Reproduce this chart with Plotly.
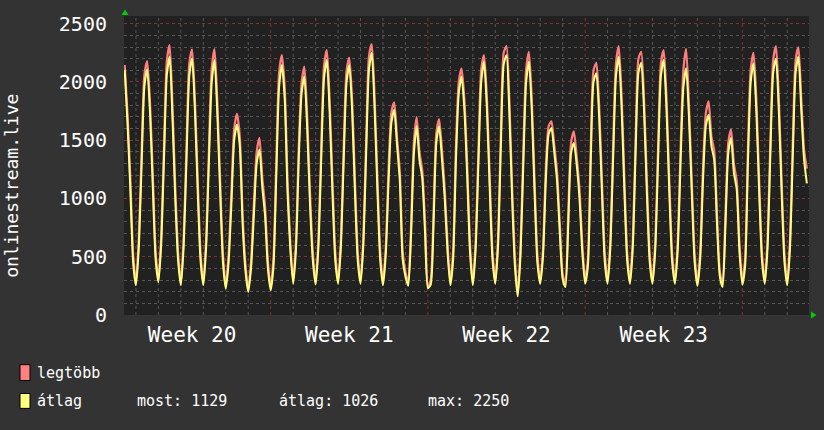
import plotly.graph_objects as go

# ---------------- data ----------------
week_labels = ["Week 20", "Week 21", "Week 22", "Week 23"]
week_label_pos = [3.5, 10.5, 17.5, 24.5]      # days since start of week 20
week_starts = [7, 14, 21, 28]
day_lines = [d for d in range(1, 31) if d not in (7, 14, 21, 28)]
y_tickvals = [0, 500, 1000, 1500, 2000, 2500]

first_sample_day = 0.5      # first sample: day 0, 12:00
sample_step_hours = 3

# "átlag" (average), 3-hourly samples
atlag_w20 = [2103, 1640, 1080, 450,
             255, 570, 1275, 1960, 2110, 1740, 1100, 480,
             284, 610, 1345, 2060, 2216, 1700, 1000, 470,
             255, 590, 1330, 2050, 2202, 1760, 1060, 470,
             255, 580, 1320, 2000, 2188, 1720, 1050, 450,
             227, 450, 950, 1500, 1634, 1450, 780, 380,
             198, 400, 850, 1300, 1420, 1100, 850, 400]
atlag_w21 = [213, 420, 1200, 1960, 2145, 1850, 1050, 560,
             269, 560, 1335, 1900, 2046, 1600, 950, 470,
             261, 580, 1330, 2030, 2188, 1740, 1050, 470,
             269, 580, 1320, 1990, 2145, 1760, 1060, 470,
             269, 600, 1380, 2100, 2250, 1780, 1080, 480,
             255, 520, 1150, 1650, 1761, 1460, 1150, 480,
             330, 250, 680, 1380, 1620, 1330, 1170, 700]
atlag_w22 = [230, 260, 770, 1480, 1620, 1340, 1000, 540,
             255, 480, 1335, 1900, 2046, 1760, 1190, 540,
             255, 560, 1300, 2000, 2174, 1780, 1100, 480,
             269, 600, 1450, 2150, 2230, 1750, 1000, 420,
             160, 520, 1300, 2000, 2174, 1760, 1050, 450,
             269, 500, 1150, 1550, 1605, 1400, 1150, 700,
             310, 240, 770, 1390, 1477, 1290, 1000, 540]
atlag_w23 = [270, 420, 1300, 2000, 2074, 1700, 1050, 460,
             269, 580, 1350, 2050, 2216, 1780, 1060, 460,
             269, 580, 1400, 2080, 2165, 1750, 1050, 460,
             269, 560, 1330, 2050, 2188, 1760, 1050, 460,
             269, 560, 1300, 1950, 2117, 1700, 1050, 460,
             250, 480, 1150, 1620, 1719, 1450, 1330, 770,
             330, 240, 770, 1390, 1520, 1220, 1080, 540]
atlag_w24 = [260, 420, 1300, 2000, 2160, 1750, 1060, 470,
             269, 580, 1380, 2080, 2202, 1760, 1060, 460,
             255, 580, 1380, 2080, 2216, 1760, 1335, 1129]

# "legtöbb" (maximum), same samples
legtobb_w20 = [2145, 1720, 1170, 520,
               280, 640, 1380, 2060, 2180, 1830, 1200, 550,
               300, 680, 1450, 2180, 2316, 1800, 1100, 540,
               275, 660, 1430, 2160, 2279, 1850, 1160, 540,
               275, 650, 1420, 2120, 2282, 1820, 1150, 520,
               245, 510, 1050, 1600, 1727, 1530, 860, 440,
               215, 460, 950, 1400, 1520, 1180, 930, 460]
legtobb_w21 = [235, 490, 1320, 2080, 2230, 1950, 1150, 620,
               290, 630, 1440, 1990, 2131, 1700, 1050, 540,
               280, 650, 1440, 2140, 2273, 1840, 1150, 540,
               290, 650, 1430, 2090, 2210, 1850, 1160, 540,
               290, 670, 1490, 2220, 2324, 1880, 1180, 550,
               275, 590, 1260, 1740, 1824, 1520, 1230, 550,
               370, 280, 770, 1480, 1699, 1400, 1240, 780]
legtobb_w22 = [250, 300, 870, 1560, 1682, 1420, 1080, 610,
               275, 560, 1450, 2000, 2117, 1850, 1290, 610,
               275, 630, 1410, 2110, 2230, 1870, 1200, 550,
               290, 670, 1560, 2250, 2307, 1850, 1100, 490,
               180, 590, 1410, 2110, 2259, 1850, 1150, 520,
               290, 560, 1250, 1620, 1662, 1460, 1230, 780,
               350, 270, 870, 1480, 1577, 1360, 1080, 610]
legtobb_w23 = [300, 480, 1420, 2100, 2165, 1800, 1150, 530,
               290, 650, 1460, 2160, 2307, 1880, 1160, 530,
               290, 650, 1510, 2200, 2259, 1850, 1150, 530,
               290, 630, 1440, 2160, 2273, 1860, 1150, 530,
               290, 630, 1410, 2100, 2285, 1800, 1150, 530,
               270, 540, 1260, 1730, 1833, 1530, 1410, 850,
               370, 270, 870, 1480, 1591, 1300, 1150, 610]
legtobb_w24 = [290, 480, 1420, 2110, 2250, 1850, 1160, 540,
               290, 650, 1490, 2190, 2307, 1860, 1160, 530,
               275, 650, 1490, 2190, 2296, 1860, 1420, 1256]

legend_name_max = "legtöbb"
legend_name_avg = "átlag"
stat_texts = ["most: 1129", "átlag: 1026", "max: 2250"]
y_title = "onlinestream.live"

atlag = atlag_w20 + atlag_w21 + atlag_w22 + atlag_w23 + atlag_w24
legtobb = legtobb_w20 + legtobb_w21 + legtobb_w22 + legtobb_w23 + legtobb_w24
t = [first_sample_day + i * sample_step_hours / 24.0 for i in range(len(atlag))]

# ---------------- layout helpers (pixel -> paper) ----------------
W, H = 824, 430
L, R, T, B = 124, 809, 14, 315


def px(xp):
    return (xp - L) / (R - L)


def py(yp):
    return (B - yp) / (B - T)


MONO = "DejaVu Sans Mono"
BG = "#333333"
PLOT_BG = "#212121"
RED = "#ff7f7f"
YEL = "#ffff80"
GRID = "#575757"
MAJOR = "#7a3636"

fig = go.Figure()
fig.add_trace(go.Scatter(x=t, y=legtobb, mode="lines", name=legend_name_max,
                         line=dict(color=RED, width=2.2, shape="spline", smoothing=0.6),
                         hoverinfo="skip"))
fig.add_trace(go.Scatter(x=t, y=atlag, mode="lines", name=legend_name_avg,
                         line=dict(color=YEL, width=2, shape="spline", smoothing=0.6)))

fig.update_layout(
    width=W, height=H,
    margin=dict(l=L, r=W - R, t=T, b=H - B),
    paper_bgcolor=BG, plot_bgcolor=PLOT_BG,
    showlegend=False,
    font=dict(family=MONO, color="#ffffff", size=20),
)

fig.update_xaxes(
    range=[0.468, 30.97],
    tickmode="array", tickvals=week_label_pos, ticktext=week_labels,
    showgrid=False, zeroline=False, ticks="", showline=False,
    tickfont=dict(family=MONO, size=21, color="#ffffff"),
    ticklabelstandoff=5,
)
fig.update_yaxes(
    range=[0, 2566],
    tickmode="array", tickvals=y_tickvals,
    showgrid=True, gridcolor=MAJOR, griddash="dot", gridwidth=1,
    zeroline=False, ticks="", showline=False,
    tickfont=dict(family=MONO, size=20, color="#ffffff"),
    ticklabelstandoff=16,
    minor=dict(tick0=0, dtick=100, showgrid=True, gridcolor=GRID,
               griddash="dot", gridwidth=1, ticks=""),
)

shapes = []
for d in day_lines:
    shapes.append(dict(type="line", xref="x", yref="paper", x0=d, x1=d, y0=0, y1=1,
                       line=dict(color=GRID, width=1, dash="dot"), layer="below"))
for ws in week_starts:
    shapes.append(dict(type="line", xref="x", yref="paper", x0=ws, x1=ws, y0=0, y1=1,
                       line=dict(color=MAJOR, width=1, dash="dot"), layer="below"))
# green arrows
shapes.append(dict(type="path", xref="paper", yref="paper",
                   path=f"M {px(125)},{py(7.5)} L {px(121.5)},{py(13)} L {px(128.5)},{py(13)} Z",
                   fillcolor="#00cc00", line=dict(width=0)))
shapes.append(dict(type="path", xref="paper", yref="paper",
                   path=f"M {px(816.5)},{py(315)} L {px(811)},{py(311.5)} L {px(811)},{py(318.5)} Z",
                   fillcolor="#00cc00", line=dict(width=0)))
# legend swatches
shapes.append(dict(type="rect", xref="paper", yref="paper",
                   x0=px(20), x1=px(30), y0=py(381), y1=py(365),
                   fillcolor="#ff8080", line=dict(color="#000000", width=1)))
shapes.append(dict(type="rect", xref="paper", yref="paper",
                   x0=px(20), x1=px(30), y0=py(409), y1=py(394),
                   fillcolor="#ffff80", line=dict(color="#000000", width=1)))
fig.update_layout(shapes=shapes)

ann = []
ann.append(dict(text=y_title, xref="paper", yref="paper", x=px(12), y=py(185),
                textangle=-90, showarrow=False, xanchor="center", yanchor="middle",
                font=dict(family=MONO, size=18, color="#ffffff")))
leg_font = dict(family=MONO, size=15, color="#ffffff")
ann.append(dict(text=legend_name_max, xref="paper", yref="paper", x=px(35), y=py(373),
                showarrow=False, xanchor="left", yanchor="middle", font=leg_font))
ann.append(dict(text=legend_name_avg, xref="paper", yref="paper", x=px(35), y=py(402),
                showarrow=False, xanchor="left", yanchor="middle", font=leg_font))
for txt, xp in zip(stat_texts, [135, 277, 426]):
    ann.append(dict(text=txt, xref="paper", yref="paper", x=px(xp), y=py(402),
                    showarrow=False, xanchor="left", yanchor="middle", font=leg_font))
fig.update_layout(annotations=ann)

fig.write_html("out.html")
